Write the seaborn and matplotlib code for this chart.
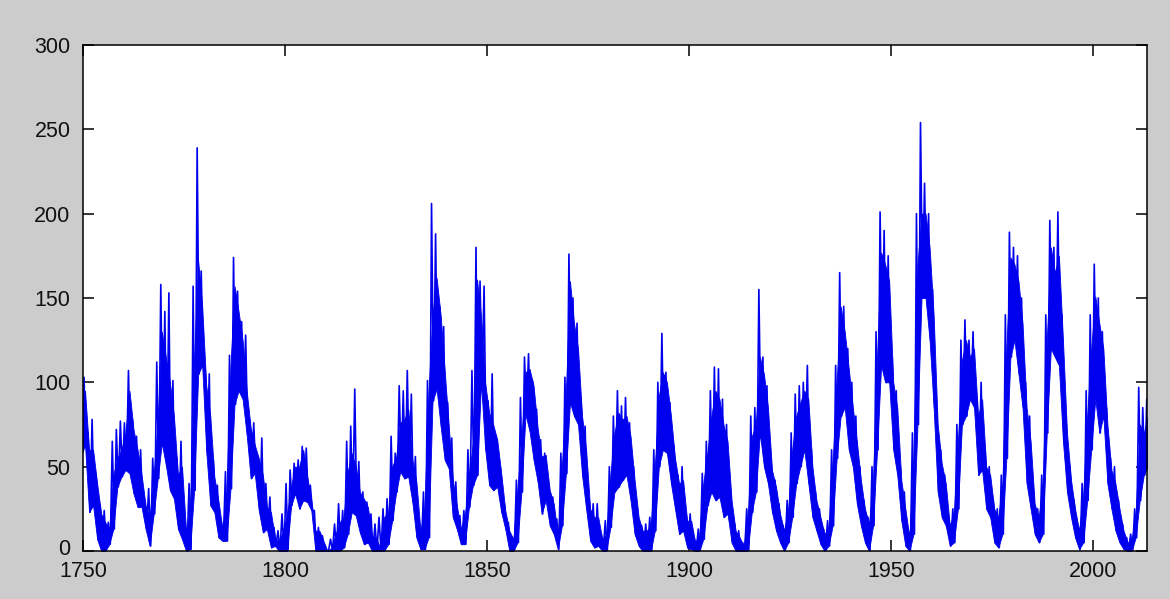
import numpy as np
import pandas as pd
import matplotlib
matplotlib.use("Agg")
import matplotlib.pyplot as plt
import matplotlib.transforms as mtransforms
import seaborn as sns

# Years of the record (one entry per year)
years = list(range(1749, 2014))

# Highest monthly sunspot number seen in each year (isolated spikes included)
year_high = [
    100, 103, 70, 78, 45, 27, 24, 17, 65, 72, 77, 76, 107, 78, 68, 60, 30, 37, 55, 112,   # 1749-1768
    158, 142, 153, 101, 55, 65, 15, 40, 157, 239, 166, 107, 105, 54, 39, 17, 47, 116, 174, 154,  # 1769-1788
    136, 128, 77, 76, 56, 67, 40, 32, 14, 12, 22, 40, 48, 52, 54, 62, 61, 39, 24, 14,  # 1789-1808
    9, 0, 7, 16, 28, 24, 65, 74, 96, 53, 35, 29, 22, 16, 20, 25, 31, 68, 58, 98,  # 1809-1828
    95, 107, 93, 56, 15, 35, 101, 206, 188, 145, 133, 88, 67, 41, 21, 24, 60, 107, 180, 160,  # 1829-1848
    157, 89, 105, 68, 50, 28, 17, 8, 42, 91, 115, 117, 101, 84, 66, 58, 39, 32, 19, 58,  # 1849-1868
    103, 176, 150, 135, 90, 74, 30, 28, 28, 10, 18, 50, 80, 95, 86, 91, 76, 50, 24, 15,  # 1869-1888
    16, 20, 60, 100, 129, 106, 88, 62, 45, 50, 22, 22, 8, 13, 46, 65, 95, 109, 108, 90,  # 1889-1908
    75, 35, 16, 12, 5, 25, 80, 85, 155, 115, 98, 55, 42, 28, 15, 30, 70, 93, 98, 100,  # 1909-1928
    110, 60, 35, 25, 13, 18, 60, 110, 165, 145, 120, 100, 80, 50, 30, 20, 50, 130, 201, 190,  # 1929-1948
    175, 115, 95, 50, 35, 12, 70, 200, 254, 218, 200, 155, 85, 60, 45, 20, 25, 75, 125, 137,  # 1949-1968
    125, 130, 90, 100, 60, 50, 30, 25, 45, 140, 189, 180, 175, 150, 100, 80, 35, 25, 45, 140,  # 1969-1988
    196, 180, 201, 140, 80, 50, 30, 15, 40, 95, 140, 170, 150, 130, 85, 55, 50, 30, 16, 8,  # 1989-2008
    10, 25, 97, 85, 90,  # 2009-2013
]

# Upper edge of the dense band of monthly values in each year
year_band_top = [
    90, 95, 60, 60, 40, 22, 17, 13, 45, 55, 60, 70, 95, 72, 60, 45, 27, 20, 45, 78,  # 1749-1768
    130, 115, 100, 80, 45, 50, 12, 25, 115, 172, 145, 98, 80, 44, 30, 13, 35, 110, 157, 142,  # 1769-1788
    125, 95, 73, 63, 55, 45, 26, 23, 8, 5, 12, 22, 38, 50, 50, 60, 44, 30, 12, 12,  # 1789-1808
    6, 0, 2, 10, 17, 20, 47, 58, 50, 35, 31, 26, 9, 8, 2, 20, 23, 50, 56, 76,  # 1809-1828
    78, 84, 54, 41, 12, 25, 95, 140, 162, 140, 107, 74, 42, 27, 13, 21, 44, 65, 161, 139,  # 1829-1848
    100, 82, 75, 66, 46, 24, 12, 7, 37, 66, 106, 108, 98, 73, 56, 57, 36, 28, 9, 50,  # 1849-1868
    95, 160, 135, 120, 80, 60, 25, 20, 20, 7, 10, 45, 70, 82, 78, 80, 68, 42, 20, 12,  # 1869-1888
    12, 15, 50, 92, 106, 100, 80, 55, 40, 42, 18, 18, 5, 10, 40, 58, 80, 95, 90, 75,  # 1889-1908
    65, 30, 12, 8, 3, 20, 68, 75, 115, 105, 85, 48, 38, 22, 12, 25, 60, 80, 88, 95,  # 1909-1928
    90, 50, 30, 20, 10, 14, 52, 100, 145, 130, 108, 85, 65, 42, 25, 16, 42, 115, 177, 170,  # 1929-1948
    160, 100, 85, 42, 25, 8, 55, 170, 200, 200, 180, 140, 75, 52, 40, 15, 22, 65, 113, 125,  # 1949-1968
    115, 120, 80, 90, 50, 45, 25, 20, 40, 120, 174, 170, 160, 135, 85, 65, 28, 20, 40, 125,  # 1969-1988
    180, 165, 175, 125, 70, 42, 25, 12, 33, 80, 120, 151, 135, 120, 75, 48, 40, 25, 12, 5,  # 1989-2008
    7, 22, 75, 70, 80,  # 2009-2013
]

# Lowest monthly sunspot number seen in each year
year_low = [
    56, 63, 23, 27, 7, 0, 0, 4, 13, 38, 44, 48, 46, 34, 26, 26, 13, 3, 22, 43,  # 1749-1768
    64, 51, 36, 31, 13, 7, 0, 1, 36, 105, 110, 59, 27, 23, 8, 6, 6, 37, 87, 95,  # 1769-1788
    90, 69, 43, 46, 24, 11, 13, 2, 3, 0, 0, 0, 27, 34, 25, 30, 29, 24, 0, 0,  # 1789-1808
    0, 0, 0, 0, 0, 2, 10, 23, 21, 11, 4, 5, 0, 0, 0, 0, 4, 18, 35, 47,  # 1809-1828
    43, 44, 29, 8, 1, 1, 8, 89, 96, 74, 54, 49, 20, 13, 4, 4, 26, 39, 45, 100,  # 1829-1848
    61, 39, 36, 38, 23, 13, 0, 0, 5, 35, 81, 71, 54, 41, 22, 30, 15, 10, 1, 15,  # 1849-1868
    46, 88, 80, 75, 45, 25, 6, 2, 3, 0, 0, 14, 35, 38, 42, 45, 30, 10, 3, 0,  # 1869-1888
    0, 0, 12, 50, 60, 58, 40, 25, 10, 12, 2, 1, 0, 0, 7, 27, 35, 30, 32, 20,  # 1889-1908
    22, 5, 0, 0, 0, 0, 23, 35, 70, 50, 40, 23, 12, 5, 0, 5, 20, 40, 50, 60,  # 1909-1928
    40, 20, 12, 4, 0, 3, 15, 55, 80, 85, 60, 50, 28, 15, 5, 0, 15, 60, 110, 100,  # 1929-1948
    100, 60, 45, 18, 3, 0, 10, 75, 150, 150, 125, 85, 35, 20, 15, 3, 5, 25, 75, 80,  # 1949-1968
    90, 85, 45, 48, 25, 20, 5, 2, 10, 55, 115, 125, 105, 85, 40, 25, 10, 5, 10, 70,  # 1969-1988
    120, 115, 110, 65, 35, 20, 8, 1, 5, 30, 60, 90, 70, 80, 40, 25, 12, 5, 1, 0,  # 1989-2008
    0, 8, 30, 45, 50,  # 2009-2013
]

x_ticks = [1750, 1800, 1850, 1900, 1950, 2000]
y_ticks = [0, 50, 100, 150, 200, 250, 300]

# The trace: the high and low of each year, in turn
t, v = [], []
for yr, hi, lo in zip(years, year_high, year_low):
    t += [yr + 0.25, yr + 0.75]
    v += [hi, lo]
df = pd.DataFrame({"year": t, "sunspots": v})

# The dense band, centred on each year
band = pd.DataFrame({"year": [y + 0.5 for y in years],
                     "low": year_low, "top": year_band_top})

sns.set_theme(style="white")
plt.rcParams["font.family"] = ["Liberation Sans", "DejaVu Sans"]

BLUE = "#0000ee"

fig = plt.figure(figsize=(11.70, 5.99), dpi=100, facecolor="#cccccc")
ax = fig.add_axes([83 / 1170, 1 - 551 / 599, (1147 - 83) / 1170, (551 - 45) / 599])
ax.set_facecolor("white")

ax.fill_between(band["year"], band["low"], band["top"], color=BLUE,
                linewidth=0.6, edgecolor=BLUE)
sns.lineplot(data=df, x="year", y="sunspots", ax=ax, color=BLUE,
             linewidth=1.2, estimator=None, sort=False)

ax.set_xlim(1750, 2013.3)
ax.set_ylim(0, 300)
ax.set_xticks(x_ticks)
ax.set_yticks(y_ticks)
ax.set_xticklabels([str(x) for x in x_ticks])
ax.set_yticklabels([str(y) for y in y_ticks])
ax.set_xlabel("")
ax.set_ylabel("")

for side in ["top", "bottom", "left", "right"]:
    ax.spines[side].set_visible(True)
    ax.spines[side].set_color("black")
    ax.spines[side].set_linewidth(1.1)
    ax.spines[side].set_zorder(5)

ax.tick_params(axis="both", which="major", direction="in", length=8, width=1.1,
               color="black", labelsize=15.5, labelcolor="#111111",
               top=True, right=True, bottom=True, left=True, pad=7)
ax.tick_params(axis="y", pad=9)
ax.grid(False)

# Lift the "0" label a little, as in the reference
lift = mtransforms.ScaledTranslation(0, 4 / 100, fig.dpi_scale_trans)
ylabels = ax.get_yticklabels()
ylabels[0].set_transform(ylabels[0].get_transform() + lift)

fig.savefig("out.png", dpi=100, facecolor=fig.get_facecolor())
